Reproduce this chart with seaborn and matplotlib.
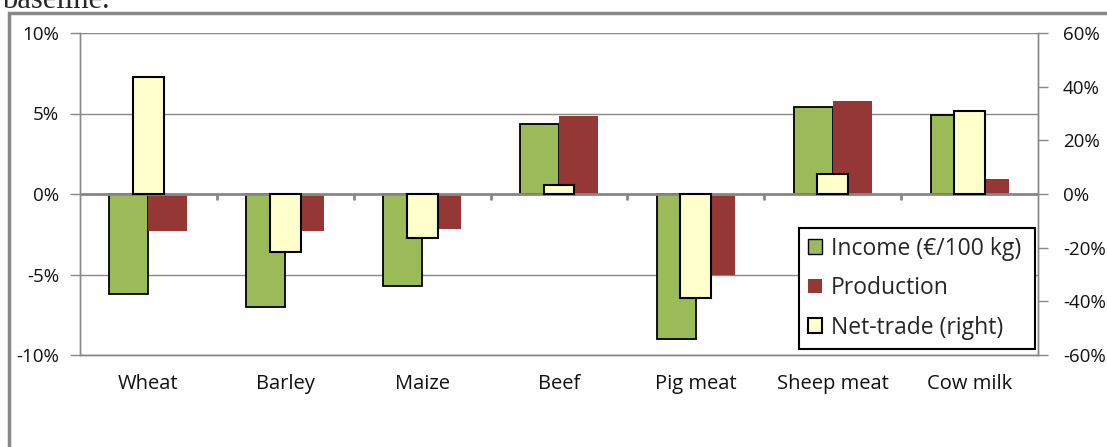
import numpy as np
import pandas as pd
import matplotlib
matplotlib.use("Agg")
import matplotlib.pyplot as plt
import seaborn as sns
from matplotlib.patches import Patch, Rectangle
from matplotlib.ticker import PercentFormatter, FixedLocator

# ---- data ----
categories = ["Wheat", "Barley", "Maize", "Beef", "Pig meat", "Sheep meat", "Cow milk"]
income = [-6.2, -7.0, -5.7, 4.35, -9.0, 5.38, 4.88]          # % (left axis)
production = [-2.3, -2.3, -2.2, 4.86, -5.05, 5.8, 0.95]      # % (left axis)
net_trade = [43.6, -21.6, -16.4, 3.2, -38.7, 7.4, 31.0]      # % (right axis)
series_names = ["Income (€/100 kg)", "Production", "Net-trade (right)"]
left_ticks = [-10, -5, 0, 5, 10]
right_ticks = [-60, -40, -20, 0, 20, 40, 60]

GREEN = "#9BBB59"
RED = "#953735"
YELLOW = "#FFFFCC"
GRAY = "#888888"

sns.set_theme(style="white")
plt.rcParams["font.family"] = ["Open Sans", "DejaVu Sans"]
plt.rcParams["axes.unicode_minus"] = False

fig = plt.figure(figsize=(11.07, 4.47), dpi=100)
ax1 = fig.add_axes([80 / 1107, 92 / 447, 958 / 1107, 322 / 447])

df = pd.DataFrame({
    "cat": categories * 2,
    "val": income + production,
    "series": [series_names[0]] * len(categories) + [series_names[1]] * len(categories),
})
sns.barplot(data=df, x="cat", y="val", hue="series", hue_order=series_names[:2],
            palette=[GREEN, RED], width=0.57, saturation=1, ax=ax1, legend=False)
for p in ax1.containers[0]:
    p.set_edgecolor("black")
    p.set_linewidth(1.3)
for p in ax1.containers[1]:
    p.set_edgecolor(RED)
    p.set_linewidth(0)

ax1.set_ylim(left_ticks[0], left_ticks[-1])
ax1.yaxis.set_major_locator(FixedLocator(left_ticks))
ax1.yaxis.set_major_formatter(PercentFormatter(decimals=0))
ax1.yaxis.grid(True, color=GRAY, lw=1)
ax1.set_axisbelow(True)
ax1.axhline(0, color=GRAY, lw=2, zorder=1.5)
ax1.vlines(np.arange(0.5, len(categories) - 0.5, 1), -0.4, 0, color=GRAY, lw=2, zorder=1.5)

ax2 = ax1.twinx()
sns.barplot(x=categories, y=net_trade, color=YELLOW, width=0.226, saturation=1,
            edgecolor="black", linewidth=1.5, ax=ax2)
ax2.set_ylim(right_ticks[0], right_ticks[-1])
ax2.yaxis.set_major_locator(FixedLocator(right_ticks))
ax2.yaxis.set_major_formatter(PercentFormatter(decimals=0))
ax1.set_xlim(-0.5, len(categories) - 0.5)

for ax in (ax1, ax2):
    ax.set_xlabel("")
    ax.set_ylabel("")
    for s in ax.spines.values():
        s.set_color(GRAY)
        s.set_linewidth(1)
    ax.spines["top"].set_visible(False)

ax1.set_xticks(range(len(categories)))
ax1.set_xticklabels(categories)
ax1.tick_params(axis="x", bottom=True, length=0, pad=14, labelsize=14.5, labelcolor="#111111")
ax1.tick_params(axis="y", left=True, direction="out", length=7, width=1, color=GRAY,
                pad=8, labelsize=13.5, labelcolor="#111111")
ax2.tick_params(axis="y", right=True, direction="out", length=7, width=1, color=GRAY,
                pad=11, labelsize=13.5, labelcolor="#111111")

handles = [Patch(facecolor=GREEN, edgecolor="black", lw=1),
           Patch(facecolor=RED, edgecolor=RED, lw=0),
           Patch(facecolor=YELLOW, edgecolor="black", lw=1.5)]
leg = ax2.legend(handles, series_names, loc="lower left",
                 bbox_to_anchor=(0.7505, 0.0186, 0.2465, 0.3727), mode="expand",
                 fontsize=16.5, frameon=True, fancybox=False, framealpha=1,
                 edgecolor="black", handlelength=0.6, handleheight=0.6,
                 handletextpad=0.4, labelspacing=0.68, borderpad=0.4, borderaxespad=0)
leg.get_frame().set_linewidth(1.5)

# outer frame and cut-off caption from the page
fig.add_artist(Rectangle((8.5 / 1107, -0.1), 1.2, (447 - 13.5) / 447 + 0.1,
                         transform=fig.transFigure, fill=False, edgecolor=GRAY, lw=2.5))
fig.text(2 / 1107, 1 - 8 / 447, "baseline.", family="Liberation Serif", fontsize=22,
         va="baseline", ha="left")

fig.savefig("out.png", dpi=100)
